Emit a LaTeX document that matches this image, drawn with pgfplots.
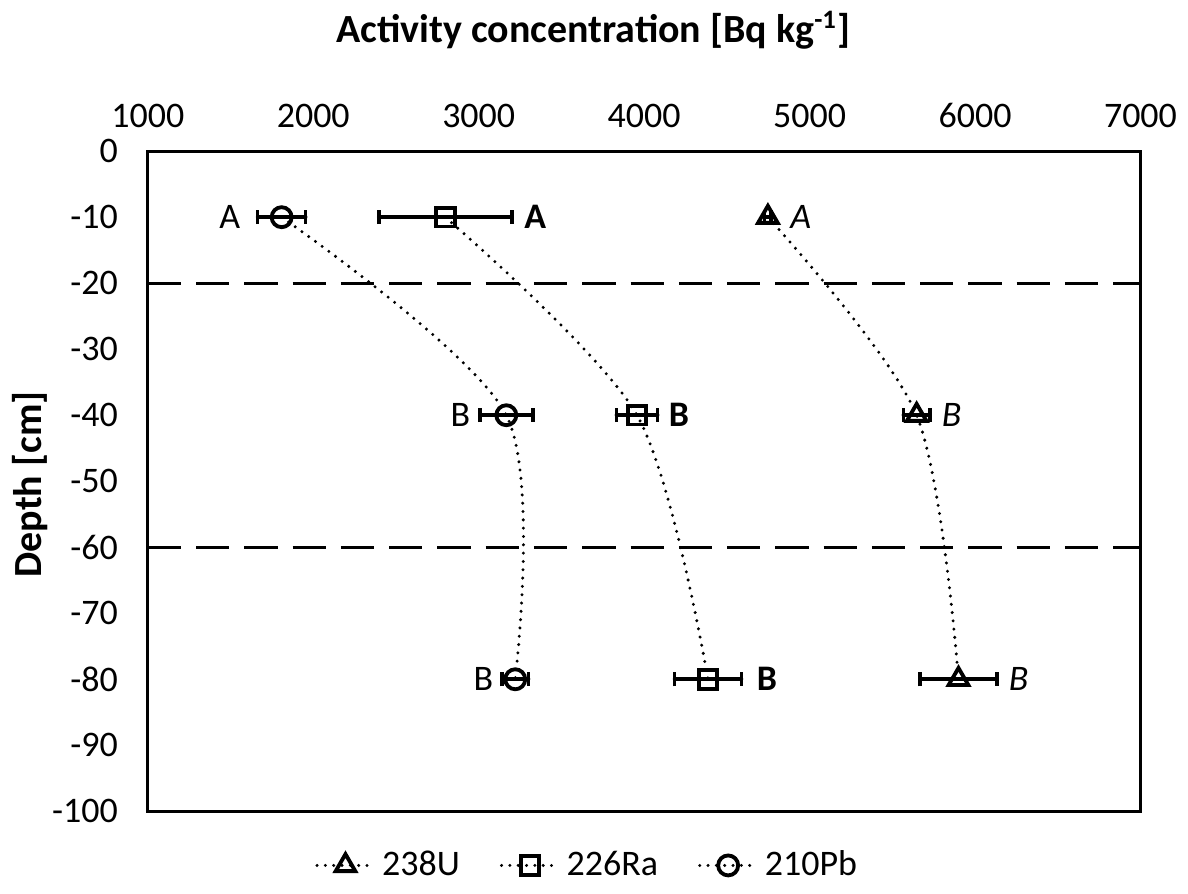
\documentclass[border=0pt]{standalone}
\usepackage{pgfplots}
\pgfplotsset{compat=1.18}
\usepackage{fontspec}
\setmainfont{Carlito}
\begin{document}
\begin{tikzpicture}
\begin{axis}[scale only axis,width=298.2pt,height=198.3pt,
xmin=1000,xmax=7000,ymin=-100,ymax=0,
xtick={1000,2000,...,7000},ytick={-100,-90,...,0},
xticklabel pos=upper,
major tick length=0pt,
/pgf/number format/assume math mode=true,
/pgf/number format/1000 sep={},
tick label style={font=\fontsize{10.8}{12}\selectfont},
xticklabel shift=3.5pt,yticklabel shift=5.5pt,
axis line style={black,line width=0.9pt},
clip=false,
legend style={at={(rel axis cs:0.445,-0.082)},anchor=center,legend columns=3,draw=none,
  font=\fontsize{10.8}{12}\selectfont,/tikz/every even column/.append style={column sep=10pt}},
legend cell align=left,
every axis plot/.append style={black,line width=1pt,line cap=round,dash pattern=on 0pt off 2.5pt,smooth,
  mark options={solid,fill=white,line width=1.15pt},
  error bars/error bar style={solid,line width=1.1pt},
  error bars/error mark options={solid,line width=1.1pt,mark size=2.1pt,rotate=90}},
]
% dashed horizon boundaries
\addplot[forget plot,no marks,solid,line cap=butt,sharp plot,line width=0.9pt,dash pattern=on 10pt off 4.5pt] coordinates {(1000,-20) (7000,-20)};
\addplot[forget plot,no marks,solid,line cap=butt,sharp plot,line width=0.9pt,dash pattern=on 10pt off 4.5pt] coordinates {(1000,-60) (7000,-60)};
% 238U
\addplot[mark=triangle,mark size=3.4pt,error bars/.cd,x dir=both,x explicit]
 coordinates {(4748,-10) +- (20,0) (5647,-40) +- (80,0) (5900,-80) +- (233,0)};
\addlegendentry{238U}
% 226Ra
\addplot[mark=square,mark size=2.8pt,error bars/.cd,x dir=both,x explicit]
 coordinates {(2798,-10) +- (402,0) (3957,-40) +- (124,0) (4386,-80) +- (202,0)};
\addlegendentry{226Ra}
% 210Pb
\addplot[mark=o,mark size=3pt,error bars/.cd,x dir=both,x explicit]
 coordinates {(1809,-10) +- (145,0) (3167,-40) +- (160,0) (3221,-80) +- (80,0)};
\addlegendentry{210Pb}
% group letters
\node[font=\fontsize{10.8}{12}\selectfont] at (axis cs:1495,-10) {A};
\node[font=\fontsize{10.8}{12}\selectfont] at (axis cs:2889,-40) {B};
\node[font=\fontsize{10.8}{12}\selectfont] at (axis cs:3028,-80) {B};
\node[font=\fontsize{10.8}{12}\selectfont\bfseries] at (axis cs:3342,-10) {A};
\node[font=\fontsize{10.8}{12}\selectfont\bfseries] at (axis cs:4210,-40) {B};
\node[font=\fontsize{10.8}{12}\selectfont\bfseries] at (axis cs:4742,-80) {B};
\node[font=\fontsize{10.8}{12}\selectfont\itshape] at (axis cs:4947,-10) {A};
\node[font=\fontsize{10.8}{12}\selectfont\itshape] at (axis cs:5858,-40) {B};
\node[font=\fontsize{10.8}{12}\selectfont\itshape] at (axis cs:6263,-80) {B};
% titles
\node[font=\fontsize{12}{14}\selectfont\bfseries] at (rel axis cs:0.449,1.183) {Activity concentration [Bq kg\textsuperscript{-1}]};
\node[font=\fontsize{12}{14}\selectfont\bfseries,rotate=90] at (rel axis cs:-0.119,0.495) {Depth [cm]};
\coordinate (bl) at (rel axis cs:-0.1489,-0.1165);
\coordinate (tr) at (rel axis cs:1.0463,1.2284);
\end{axis}
\path (bl) rectangle (tr);
\end{tikzpicture}
\end{document}
